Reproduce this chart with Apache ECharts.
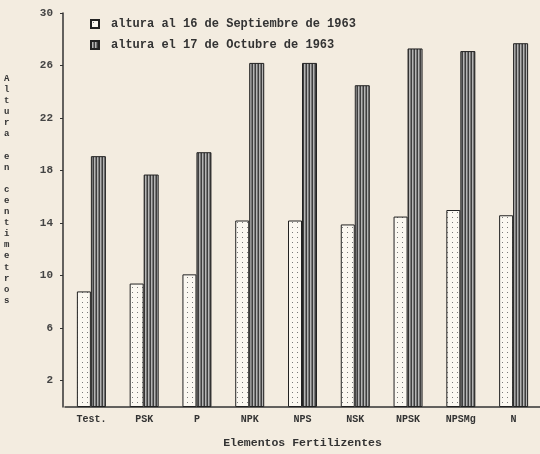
<!DOCTYPE html>
<html><head><meta charset="utf-8">
<script src="https://cdn.jsdelivr.net/npm/echarts@6/dist/echarts.min.js"></script>
<style>html,body{margin:0;padding:0;background:#f3ece0}#c{width:540px;height:454px}</style>
</head><body><div id="c"></div>
<script>
const categories = ['Test.', 'PSK', 'P', 'NPK', 'NPS', 'NSK', 'NPSK', 'NPSMg', 'N'];
const septiembre = [8.8, 9.4, 10.1, 14.2, 14.2, 13.9, 14.5, 15.0, 14.6];
const octubre = [19.1, 17.7, 19.4, 26.2, 26.2, 24.5, 27.3, 27.1, 27.7];
const yTicks = [2, 6, 10, 14, 18, 22, 26, 30];
const seriesNames = ['altura al 16 de Septiembre de 1963', 'altura el 17 de Octubre de 1963'];
const yTitle = 'Altura en centimetros';
const xTitle = 'Elementos Fertilizentes';

function dots() {
  const c = document.createElement('canvas'); c.width = 5; c.height = 5;
  const x = c.getContext('2d');
  x.fillStyle = '#fbf8f1'; x.fillRect(0, 0, 5, 5);
  x.fillStyle = '#7a7a7a'; x.fillRect(2, 2, 1, 1);
  return c;
}
function stripes() {
  const c = document.createElement('canvas'); c.width = 3; c.height = 4;
  const x = c.getContext('2d');
  const cols = ['#3e3e3e', '#b4b4b4', '#787878'];
  cols.forEach((col, i) => { x.fillStyle = col; x.fillRect(i, 0, 1, 4); });
  return c;
}
const font = 'Liberation Mono';
const chart = echarts.init(document.getElementById('c'));
chart.setOption({
  backgroundColor: '#f3ece0',
  animation: false,
  textStyle: { fontFamily: font, color: '#333' },
  grid: { left: 65, right: 0, top: 13, bottom: 44, containLabel: false },
  legend: {
    orient: 'vertical', left: 85, top: 13, itemWidth: 8, itemHeight: 8, itemGap: 9, icon: 'rect',
    textStyle: { fontFamily: font, fontSize: 12, fontWeight: 'bold', color: '#333', padding: [0, 0, 0, 7] },
    data: seriesNames
  },
  xAxis: {
    type: 'category', data: categories,
    axisLine: { lineStyle: { color: '#333', width: 1.5 } },
    axisTick: { show: false },
    axisLabel: { fontFamily: font, fontSize: 10, fontWeight: 'bold', color: '#333', margin: 7 },
    name: xTitle, nameLocation: 'middle', nameGap: 30,
    nameTextStyle: { fontFamily: font, fontSize: 11.5, fontWeight: 'bold', color: '#333' }
  },
  yAxis: {
    type: 'value', min: 0, max: 30, offset: 2,
    splitLine: { show: false },
    axisLine: { show: true, lineStyle: { color: '#333', width: 1.5 } },
    axisTick: { show: true, length: 3, customValues: yTicks, lineStyle: { color: '#333' } },
    axisLabel: { customValues: yTicks, fontFamily: font, fontSize: 11, fontWeight: 'bold', color: '#444', margin: 10 }
  },
  graphic: [{
    type: 'text', left: 4, top: 73,
    style: {
      text: yTitle.split('').join('\n'), fontFamily: font, fontSize: 9, fontWeight: 'bold',
      lineHeight: 11.1, fill: '#333', align: 'center'
    }
  }],
  series: [
    { name: seriesNames[0], type: 'bar', data: septiembre, barWidth: 14, barGap: '0%',
      itemStyle: { color: { image: dots(), repeat: 'repeat' }, borderColor: '#222', borderWidth: 1 } },
    { name: seriesNames[1], type: 'bar', data: octubre, barWidth: 15, barGap: '0%',
      itemStyle: { color: { image: stripes(), repeat: 'repeat' }, borderColor: '#222', borderWidth: 1 } }
  ]
});
</script></body></html>
